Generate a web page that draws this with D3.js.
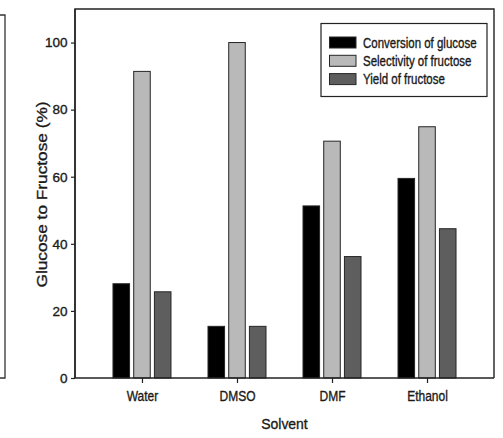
<!DOCTYPE html>
<html><head><meta charset="utf-8">
<script src="https://cdn.jsdelivr.net/npm/d3@7"></script>
<style>body{margin:0;background:#fff}svg{display:block}text{font-family:"Liberation Sans",Arial,sans-serif;fill:#1a1a1a;stroke:#1a1a1a;stroke-width:0.35px}</style>
</head><body><div id="chart"></div>
<script>
const categories = ["Water", "DMSO", "DMF", "Ethanol"];
const seriesNames = ["Conversion of glucose", "Selectivity of fructose", "Yield of fructose"];
const conversion = [28.1, 15.4, 51.3, 59.5];
const selectivity = [91.4, 100.0, 70.6, 74.9];
const yieldF = [25.7, 15.4, 36.2, 44.5];
const seriesValues = [conversion, selectivity, yieldF];
const colors = ["#000000", "#b9b9b9", "#5e5e5e"];
const yTicks = [0, 20, 40, 60, 80, 100];

const W = 503, H = 438;
const m = {left: 75, right: 494, top: 9, bottom: 378};
const svg = d3.select("#chart").append("svg").attr("width", W).attr("height", H);

const x = d3.scalePoint().domain(categories).range([m.left, m.right]).padding(0.705);
const sub = d3.scaleBand().domain(d3.range(seriesNames.length)).range([-29, 29]).paddingInner(0.2);
const y = d3.scaleLinear().domain([0, 110]).range([m.bottom, m.top]);

// cropped neighbouring panel edge
svg.append("path").attr("d", `M0,15H5V${m.bottom}H0`).attr("fill", "none").attr("stroke", "#333").attr("stroke-width", 1.3);

// bars
seriesValues.forEach((vals, s) => {
  svg.append("g").selectAll("rect").data(vals).join("rect")
    .attr("x", (d, i) => x(categories[i]) + sub(s))
    .attr("y", d => y(d))
    .attr("width", sub.bandwidth())
    .attr("height", d => y(0) - y(d))
    .attr("fill", colors[s])
    .attr("stroke", "#262626").attr("stroke-width", 1);
});

// frame
svg.append("path").attr("d", `M${m.left},${m.bottom}V${m.top}H${m.right}V${m.bottom}`)
  .attr("fill", "none").attr("stroke", "#222").attr("stroke-width", 1.4);

// axes
const yAxis = svg.append("g").attr("transform", `translate(${m.left},0)`)
  .call(d3.axisLeft(y).tickValues(yTicks).tickSize(4).tickPadding(3.5));
const xAxis = svg.append("g").attr("transform", `translate(0,${m.bottom})`)
  .call(d3.axisBottom(x).tickSize(5).tickPadding(7));
[yAxis, xAxis].forEach(g => {
  g.select(".domain").attr("stroke", "#222").attr("stroke-width", 1.4);
  g.selectAll(".tick line").attr("stroke", "#222").attr("stroke-width", 1.2);
  g.selectAll(".tick text").attr("fill", "#1a1a1a")
    .attr("font-family", '"Liberation Sans",Arial,sans-serif');
});
yAxis.selectAll(".tick text").attr("font-size", 13.5);
xAxis.selectAll(".tick text").attr("font-size", 15).attr("transform", "scale(0.8,1)");
xAxis.select(".domain").attr("d", `M${m.left},0H${m.right}`);
yAxis.select(".domain").attr("d", `M0,${m.bottom}V${m.top}`);

// axis titles
svg.append("text").attr("transform", `translate(47,194.5) rotate(-90)`)
  .attr("text-anchor", "middle").attr("font-size", 15)
  .attr("textLength", 186).attr("lengthAdjust", "spacingAndGlyphs")
  .text("Glucose to Fructose (%)");
svg.append("text").attr("transform", "translate(284.5,429) scale(0.9,1)").attr("text-anchor", "middle")
  .attr("font-size", 15.5).text("Solvent");

// legend
const lg = svg.append("g");
lg.append("rect").attr("x", 321).attr("y", 23.5).attr("width", 166).attr("height", 73)
  .attr("fill", "#fff").attr("stroke", "#222").attr("stroke-width", 1.2);
seriesNames.forEach((name, i) => {
  const yy = 37 + i * 18.3;
  lg.append("rect").attr("x", 329.5).attr("y", yy).attr("width", 26.5).attr("height", 11)
    .attr("fill", colors[i]).attr("stroke", "#262626").attr("stroke-width", 1);
  lg.append("text").attr("transform", `translate(363,${yy + 10.5}) scale(0.82,1)`)
    .attr("font-size", 14).text(name);
});
</script></body></html>
